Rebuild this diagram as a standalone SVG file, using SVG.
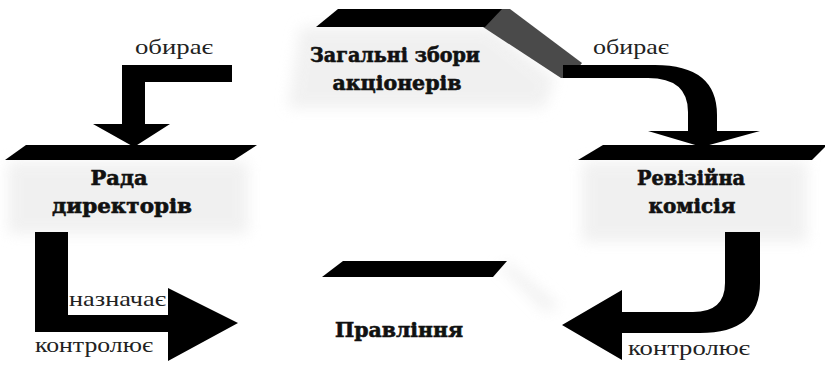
<svg xmlns="http://www.w3.org/2000/svg" width="825" height="366" viewBox="0 0 825 366">
  <defs>
    <filter id="soft" x="-20%" y="-20%" width="140%" height="140%">
      <feGaussianBlur stdDeviation="7"/>
    </filter>
  </defs>
  <style>
    .bar { fill: #000; }
    .shade { fill: #ebebeb; filter: url(#soft); opacity: 0.7; }
    .arrow { fill: #000; }
    .node { font-family: "DejaVu Serif", "Liberation Serif", serif; font-weight: bold; font-size: 20px; fill: #111; stroke: #111; stroke-width: 0.6; text-anchor: middle; }
    .lbl { font-family: "Liberation Serif", "DejaVu Serif", serif; font-size: 21px; fill: #222; }
  </style>
  <rect width="825" height="366" fill="#fff"/>

  <g id="node-zbory">
    <polygon class="shade" points="300,27 490,27 555,78 545,108 288,108"/>
    <polygon fill="#4a4a4a" points="483,27 500,9 510,9 582,63 570,78 561,78"/>
    <polygon class="bar" points="316,27 338,9 502,9 485,27"/>
    <text class="node" x="395" y="62" textLength="170" lengthAdjust="spacingAndGlyphs">Загальні збори</text>
    <text class="node" x="397" y="90" textLength="129" lengthAdjust="spacingAndGlyphs">акціонерів</text>
  </g>

  <g id="node-rada">
    <rect class="shade" x="8" y="162" width="240" height="72"/>
    <polygon class="bar" points="26,145 257,145 234,160 5,160"/>
    <text class="node" x="119" y="185" textLength="57" lengthAdjust="spacingAndGlyphs">Рада</text>
    <text class="node" x="122" y="213" textLength="140" lengthAdjust="spacingAndGlyphs">директорів</text>
  </g>

  <g id="node-revkom">
    <rect class="shade" x="582" y="162" width="225" height="80"/>
    <polygon class="bar" points="603,145 825,145 825,147 812,160 578,160"/>
    <text class="node" x="691" y="185" textLength="108" lengthAdjust="spacingAndGlyphs">Ревізійна</text>
    <text class="node" x="692" y="213" textLength="87" lengthAdjust="spacingAndGlyphs">комісія</text>
  </g>

  <g id="node-pravlinnia">
    <polygon class="shade" points="497,264 510,264 560,306 545,312"/>
    <polygon class="bar" points="343,261 507,261 493,277 322,277"/>
    <text class="node" x="399" y="337" textLength="128" lengthAdjust="spacingAndGlyphs">Правління</text>
  </g>

  <g id="connectors">
    <path class="arrow" d="M232,65 L232,82 L145,82 L145,124 L170,124 L134,147 L93,124 L122,124 L122,65 Z"/>
    <text class="lbl" x="135" y="54" textLength="78" lengthAdjust="spacingAndGlyphs">обирає</text>

    <path class="arrow" d="M563,65 L655,65 Q717,65 717,115 L717,131 L760,131 L702,147 L648,131 L688,131 L688,112 Q688,78 648,78 L563,78 Z"/>
    <text class="lbl" x="593" y="54" textLength="76" lengthAdjust="spacingAndGlyphs">обирає</text>

    <path class="arrow" d="M35,232 L68,232 L68,315 L168,315 L168,288 L238,323 L168,361 L168,332 L35,332 Z"/>
    <text class="lbl" x="69" y="306" textLength="97" lengthAdjust="spacingAndGlyphs">назначає</text>
    <text class="lbl" x="35" y="352" textLength="118" lengthAdjust="spacingAndGlyphs">контролює</text>

    <path class="arrow" d="M725,232 L760,232 L760,283 Q760,333 700,333 L622,333 L622,360 L562,325 L622,290 L622,312 L693,312 Q725,312 725,283 Z"/>
    <text class="lbl" x="628" y="355" textLength="122" lengthAdjust="spacingAndGlyphs">контролює</text>
  </g>
</svg>
